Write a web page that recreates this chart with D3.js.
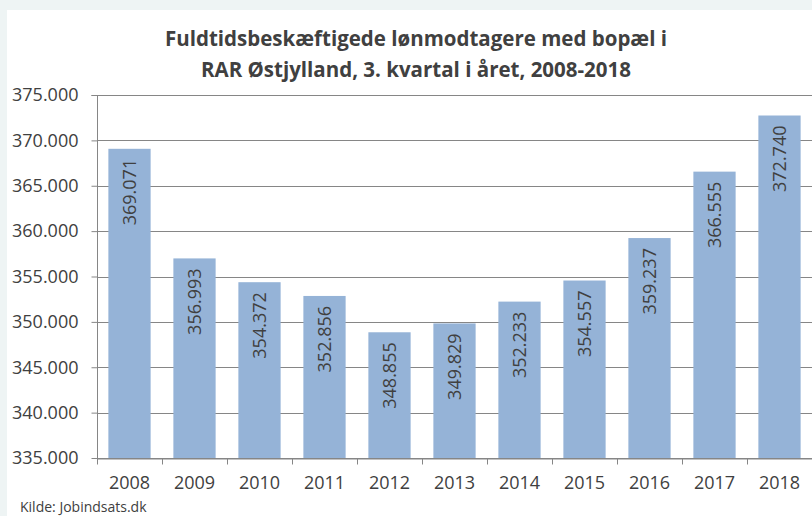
<!DOCTYPE html>
<html>
<head>
<meta charset="utf-8">
<script src="https://cdn.jsdelivr.net/npm/d3@7"></script>
<style>
  body { margin: 0; background: #eef4f4; }
  text { font-family: "Open Sans", sans-serif; fill: #404040; }
</style>
</head>
<body>
<div id="chart"></div>
<script>
// data
var years = ["2008", "2009", "2010", "2011", "2012", "2013", "2014", "2015", "2016", "2017", "2018"];
var values = [369071, 356993, 354372, 352856, 348855, 349829, 352233, 354557, 359237, 366555, 372740];
var yTicks = [335000, 340000, 345000, 350000, 355000, 360000, 365000, 370000, 375000];
var titleLines = ["Fuldtidsbeskæftigede lønmodtagere med bopæl i", "RAR Østjylland, 3. kvartal i året, 2008-2018"];
var source = "Kilde: Jobindsats.dk";

var svgWidth = 812;
var svgHeight = 516;

var margin = { top: 95, right: 0, bottom: 58, left: 97 };
var width = svgWidth - margin.left - margin.right;
var height = svgHeight - margin.top - margin.bottom;

// danish number format: 375.000
var fmt = d3.formatLocale({ decimal: ",", thousands: ".", grouping: [3], currency: ["", " kr."] }).format(",d");

var svg = d3.select("#chart")
  .append("svg")
  .attr("width", svgWidth)
  .attr("height", svgHeight);

// white chart area
svg.append("rect")
  .attr("x", 7)
  .attr("y", 10)
  .attr("width", svgWidth - 7)
  .attr("height", svgHeight - 10)
  .attr("fill", "#ffffff");

var chartGroup = svg.append("g")
  .attr("transform", `translate(${margin.left}, ${margin.top})`);

var x = d3.scaleBand()
  .domain(years)
  .range([0, width])
  .paddingInner(0.35)
  .paddingOuter(0.175);

var y = d3.scaleLinear()
  .domain([335000, 375000])
  .range([height, 0]);

// gridlines
chartGroup.selectAll(".grid")
  .data(yTicks)
  .enter()
  .append("line")
  .attr("x1", 0)
  .attr("x2", width)
  .attr("y1", d => Math.round(y(d)) + 0.5)
  .attr("y2", d => Math.round(y(d)) + 0.5)
  .attr("stroke", "#868686")
  .attr("stroke-width", 1);

// bars
chartGroup.selectAll(".bar")
  .data(values)
  .enter()
  .append("rect")
  .attr("x", (d, i) => x(years[i]))
  .attr("y", d => y(d))
  .attr("width", x.bandwidth())
  .attr("height", d => height - y(d))
  .attr("fill", "#95b3d7");

// value labels, rotated inside the bars
chartGroup.selectAll(".val")
  .data(values)
  .enter()
  .append("text")
  .attr("transform", (d, i) => `translate(${x(years[i]) + x.bandwidth() / 2}, ${y(d) + 10}) rotate(-90)`)
  .attr("text-anchor", "end")
  .attr("dy", "0.35em")
  .style("font-size", "18px")
  .text(d => fmt(d));

// y axis
var leftAxis = d3.axisLeft(y).tickValues(yTicks).tickFormat(fmt).tickSize(6).tickPadding(13);
var yAxis = chartGroup.append("g")
  .attr("transform", "translate(0.5, 0)")
  .call(leftAxis);
yAxis.select(".domain").attr("stroke", "#868686").attr("d", `M-6,0.5H0V${height}`);
yAxis.selectAll(".tick line").attr("stroke", "#868686");
yAxis.selectAll(".tick text").style("font-size", "18px").attr("fill", "#404040");

// x axis
var bottomAxis = d3.axisBottom(x).tickSize(0).tickPadding(18);
var xAxis = chartGroup.append("g")
  .attr("transform", `translate(0, ${Math.round(height) + 0.5})`)
  .call(bottomAxis);
xAxis.select(".domain").attr("stroke", "#868686");
xAxis.selectAll(".tick text").style("font-size", "18px").attr("fill", "#404040");

// category boundary ticks
var bounds = years.map(d => x(d) - x.step() * x.paddingInner() / 2).concat([width]);
xAxis.selectAll(".bound")
  .data(bounds)
  .enter()
  .append("line")
  .attr("x1", d => Math.round(d) + 0.5)
  .attr("x2", d => Math.round(d) + 0.5)
  .attr("y1", 0)
  .attr("y2", 6)
  .attr("stroke", "#868686");

// title
svg.selectAll(".title")
  .data(titleLines)
  .enter()
  .append("text")
  .attr("x", 416)
  .attr("y", (d, i) => 46 + i * 31)
  .attr("text-anchor", "middle")
  .style("font-size", "20.5px")
  .style("font-weight", "bold")
  .text(d => d);

// source
svg.append("text")
  .attr("x", 20)
  .attr("y", 512)
  .style("font-size", "14px")
  .text(source);
</script>
</body>
</html>
